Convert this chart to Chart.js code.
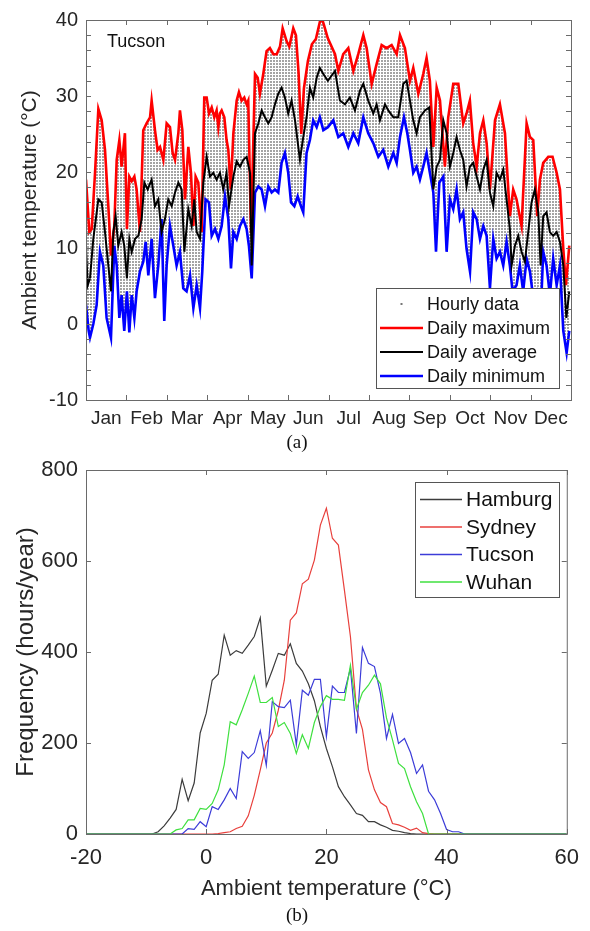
<!DOCTYPE html>
<html>
<head>
<meta charset="utf-8">
<script src="https://cdn.jsdelivr.net/npm/chart.js"></script>
<style>
  body { margin: 0; background: #fff; }
  #wrap { position: relative; width: 590px; height: 931px; }
  canvas { position: absolute; left: 0; }
  .cap { position: absolute; left: 0; width: 594px; text-align: center; font: 19px "Liberation Serif", "Times New Roman", serif; color: #111; }
</style>
</head>
<body>
<div id="wrap">
  <canvas id="tempChart" width="590" height="440" style="top:0"></canvas>
  <div class="cap" style="top:431px">(a)</div>
  <canvas id="freqChart" width="590" height="491" style="top:440px"></canvas>
  <div class="cap" style="top:904px">(b)</div>
</div>
<script>
// ---- panel (a): Tucson daily temperatures (day of year, degC) ----
const months = ['Jan', 'Feb', 'Mar', 'Apr', 'May', 'Jun', 'Jul', 'Aug', 'Sep', 'Oct', 'Nov', 'Dec'];

const maxDay = [0, 2.5, 4.3, 6.8, 9.3, 11.8, 14.3, 16.8, 18.8, 21.3, 23.1, 25.1, 26.8, 29.3, 30.8, 32.6, 34.4, 36.4, 38.1, 40.6,
  43.1, 45.6, 48.2, 49.4, 51.9, 53.9, 55.7, 58.2, 60.7, 63.2, 65.2, 67, 69.5, 70.7, 72.5, 74.5, 77, 79, 80.8, 82.5,
  84.5, 87, 89, 90.8, 92.6, 94.6, 96.6, 98.3, 99.6, 100.8, 102.1, 104.1, 105.8, 107.1, 108.9, 110.9, 113.4, 115.1, 117.1, 119.1,
  120.9, 122.1, 124.2, 127.2, 129.2, 130.9, 133.4, 135.9, 138.4, 141, 143.5, 146, 148, 151, 153, 156, 158, 160, 162, 164,
  167, 170, 173, 177, 179, 182, 187.4, 189.9, 193.6, 197.4, 201.2, 204.9, 208.7, 211.2, 215, 218.7, 222.5, 226.2, 230, 233.8,
  236.3, 240, 243.8, 246.3, 250.1, 253.8, 256.3, 258.8, 261.4, 263.9, 266.4, 270.1, 272.6, 276.4, 280.2, 283.9, 286.4, 288.9, 291.4, 294,
  296.5, 299, 301.5, 304, 307.8, 311.5, 315.3, 319, 321.5, 324, 327.8, 331.6, 334.1, 336.6, 339.6, 341.6, 344.1, 347.9, 351.1, 354.2,
  356.7, 359.2, 361.2, 363.7];
const maxTemp = [19.0, 12.1, 12.5, 19.9, 28.3, 26.8, 22.9, 15.5, 9.0, 12.9, 21.6, 24.2, 20.7, 25.1, 12.5, 19.4, 18.8, 19.4, 17.7, 12.1,
  25.5, 26.4, 27.2, 29.4, 25.5, 22.9, 23.3, 21.6, 26.4, 25.9, 22.5, 21.6, 25.1, 28.1, 25.5, 16.4, 23.3, 19.9, 12.9, 19.4,
  18.6, 12.1, 29.8, 29.8, 27.7, 28.5, 27.2, 28.1, 25.9, 27.7, 28.1, 27.2, 24.2, 22.9, 17.7, 25.1, 29.4, 30.5, 29.4, 29.8,
  28.9, 29.4, 12.0, 32.9, 32.4, 30.3, 32.9, 35.9, 36.3, 35.5, 35.5, 36.5, 38.9, 37.2, 36.5, 38.9, 38.0, 33.0, 25.0, 31.0,
  34.6, 36.8, 37.5, 40.5, 39.4, 37.6, 35.5, 33.3, 35.5, 36.3, 33.3, 35.5, 38.0, 36.3, 31.6, 34.2, 36.7, 36.3, 36.7, 35.5,
  38.0, 36.3, 32.0, 33.7, 30.3, 32.9, 35.0, 32.0, 23.3, 31.1, 29.4, 20.7, 27.2, 31.6, 31.6, 26.4, 27.7, 29.4, 23.8, 20.7,
  25.1, 26.8, 23.8, 17.7, 26.8, 28.9, 25.1, 14.2, 17.7, 16.4, 12.9, 26.4, 24.6, 24.2, 14.2, 19.0, 21.2, 22.0, 22.0, 19.9,
  17.7, 9.9, 5.1, 10.3];

const avgDay = [0, 1.3, 3, 5.5, 9.3, 11.8, 14.3, 16.8, 18.8, 20.6, 22.3, 24.3, 26.8, 28.8, 30.8, 32.6, 34.4, 36.9, 39.4, 41.9,
  43.9, 46.4, 49.4, 51.9, 54.4, 56.9, 59.4, 61.9, 64.5, 67, 69.5, 72, 74, 77, 79.5, 81.5, 83.3, 85.8, 88.3, 90.8,
  93.3, 95.8, 98.3, 100.8, 103.3, 105.8, 107.6, 110.9, 113.4, 115.9, 118.4, 120.9, 123.4, 124.7, 127.2, 129.7, 132.2, 134.7, 137.2, 139.7,
  142.2, 144.7, 147.2, 149.7, 152.2, 154.7, 157.3, 161, 163.5, 166, 168.5, 171, 173.6, 176, 178.6, 182, 187.4, 191.1, 194.9, 198.6,
  202.4, 206.2, 208.7, 212.4, 216.2, 218.7, 221.2, 225, 227.5, 231.3, 235, 238.8, 241.3, 243.8, 246.3, 248.8, 251.3, 255.1, 258.3, 261.4,
  263.9, 266.4, 268.9, 271.4, 273.9, 276.4, 278.9, 281.4, 283.9, 286.4, 288.9, 291.4, 294, 296.5, 299, 301.5, 304, 306.5, 309, 311.5,
  314, 316.5, 319, 320.3, 322.8, 325.3, 327.8, 330.3, 332.8, 335.3, 337.8, 340.4, 342.1, 344.1, 346.6, 349.1, 351.6, 354.2, 356.7, 359.2,
  361.5, 363.7];
const avgTemp = [9.9, 5.1, 6.0, 11.2, 16.4, 16.0, 12.1, 7.7, 4.3, 12.1, 14.2, 10.3, 12.1, 10.3, 6.0, 11.2, 9.5, 11.2, 11.6, 13.8,
  18.6, 17.7, 19.0, 15.5, 16.4, 12.1, 13.8, 16.4, 15.5, 17.3, 18.6, 17.7, 9.5, 15.1, 12.9, 16.4, 12.1, 11.2, 18.6, 22.0,
  19.4, 19.9, 19.0, 19.9, 17.7, 19.9, 15.5, 19.4, 21.4, 20.7, 21.6, 22.0, 19.9, 7.7, 25.1, 26.4, 28.1, 27.2, 26.4, 27.2,
  28.9, 30.3, 31.1, 29.8, 27.7, 29.4, 26.8, 21.6, 24.6, 27.2, 31.1, 29.8, 32.4, 33.7, 32.9, 32.0, 33.3, 29.4, 28.9, 29.8,
  28.1, 30.7, 31.6, 29.4, 27.7, 28.9, 26.8, 28.9, 28.1, 27.2, 27.2, 31.6, 32.0, 29.4, 26.8, 25.1, 27.2, 28.1, 28.5, 17.7,
  20.7, 21.6, 26.8, 25.1, 20.7, 22.5, 24.6, 22.9, 21.6, 18.1, 20.7, 21.2, 19.4, 17.7, 20.3, 21.6, 17.3, 15.5, 19.9, 19.0,
  20.3, 16.4, 12.5, 7.7, 10.3, 11.6, 9.5, 8.2, 12.1, 16.0, 17.7, 14.7, 7.7, 14.2, 14.7, 12.1, 11.6, 12.1, 10.8, 7.7,
  0.8, 4.3];

const minDay = [0, 2, 3, 5.5, 8, 10.5, 13, 15.5, 18.8, 21.3, 23.1, 25.1, 26.8, 28.8, 30.8, 32.6, 34.4, 36.4, 38.1, 40.6,
  43.1, 44.9, 46.9, 49.4, 51.9, 54.4, 56.9, 58.9, 60.7, 63.2, 65.7, 68.2, 70.7, 73.2, 75.7, 78.3, 80.8, 83.3, 85.8, 87.5,
  90, 92.5, 94.6, 97.1, 99.6, 102.1, 104.6, 107.1, 109.1, 110.9, 113.4, 115.9, 118.4, 120.9, 122.6, 124.7, 127.2, 129.7, 132.2, 134.7,
  137.2, 139.7, 142.2, 144.7, 147.2, 149.7, 152.2, 154.3, 156.8, 159.3, 161.8, 163.5, 166, 168.5, 171, 173.6, 176, 178.6, 182, 186.1,
  189.9, 193.6, 197.4, 201.2, 204.9, 208.7, 212.4, 216.2, 220, 223.7, 227.5, 231.3, 233.8, 236.3, 239.3, 241.8, 243.8, 246.3, 248.8, 251.3,
  253.8, 256.3, 258.8, 261.4, 263.4, 265.9, 268.9, 271.4, 273.9, 276.4, 278.9, 281.4, 283.9, 286.4, 289, 291.4, 294, 296.5, 299, 301.5,
  304, 306.5, 309, 311.5, 314, 316.5, 319, 321, 324, 326.5, 329, 331.6, 334.1, 336.6, 339.1, 342.1, 344.1, 346.6, 349.1, 351.6,
  354.2, 356.7, 359.2, 361.7, 363.7];
const minTemp = [2.5, -0.9, -1.8, 0.0, 2.5, 9.5, 7.7, 0.8, -1.8, 10.3, 7.7, 0.8, 3.8, -0.9, 4.3, -1.1, 3.8, 0.8, 4.3, 6.9,
  8.2, 10.8, 6.4, 11.2, 3.4, 7.7, 13.8, 0.4, 7.7, 12.9, 10.3, 7.7, 9.5, 4.7, 4.3, 6.4, 2.1, 5.1, 2.1, 6.9,
  16.4, 16.0, 11.6, 12.5, 11.2, 12.9, 16.8, 13.8, 7.3, 12.1, 11.2, 12.9, 13.8, 12.5, 10.3, 6.0, 17.3, 18.1, 17.7, 15.5,
  18.1, 17.3, 17.7, 17.3, 21.2, 22.5, 19.9, 16.0, 15.5, 16.8, 15.5, 14.7, 22.5, 24.2, 26.8, 25.9, 27.2, 25.5, 25.9, 26.8,
  24.6, 25.1, 23.3, 25.1, 23.8, 27.2, 25.1, 23.8, 22.0, 22.9, 20.7, 22.5, 21.2, 24.6, 27.2, 25.1, 22.9, 19.9, 20.7, 19.0,
  20.7, 22.5, 19.9, 17.3, 9.5, 18.6, 19.4, 9.5, 16.4, 15.1, 17.7, 13.8, 14.7, 9.9, 6.9, 14.7, 13.8, 11.2, 12.9, 11.6,
  4.7, 11.2, 8.6, 9.5, 7.7, 10.8, 7.7, 4.3, 5.1, 7.7, 4.3, 8.6, 6.9, 3.4, 4.3, 0.8, 9.5, 7.7, 3.8, 8.6,
  5.1, 7.7, -0.9, -3.8, -0.9];

// ---- panel (b): hours per year in each 1 degC bin, -20 .. 60 degC ----
const tempBins = Array.from({ length: 81 }, (_, i) => i - 20);
const hamburg = [0, 0, 0, 0, 0, 0, 0, 0, 0, 0, 0, 0, 5, 18, 35, 54, 120, 73, 112, 222,
  265, 338, 351, 437, 393, 403, 397, 415, 434, 475, 325, 360, 397, 393, 418, 375, 358, 330, 293, 236,
  188, 148, 104, 82, 64, 45, 41, 27, 27, 20, 15, 8, 6, 3, 1, 0, 0, 0, 0, 0,
  0, 0, 0, 0, 0, 0, 0, 0, 0, 0, 0, 0, 0, 0, 0, 0, 0, 0, 0, 0, 0];
const sydney = [0, 0, 0, 0, 0, 0, 0, 0, 0, 0, 0, 0, 0, 0, 0, 0, 0, 0, 0, 0,
  0, 0, 1, 3, 5, 12, 17, 40, 85, 141, 200, 222, 272, 338, 470, 486, 550, 560, 602, 679,
  716, 650, 635, 536, 434, 275, 230, 141, 97, 69, 60, 23, 20, 15, 8, 13, 3, 1, 0, 0,
  0, 0, 0, 0, 0, 0, 0, 0, 0, 0, 0, 0, 0, 0, 0, 0, 0, 0, 0, 0, 0];
const tucson = [0, 0, 0, 0, 0, 0, 0, 0, 0, 0, 0, 0, 0, 0, 0, 0, 0, 12, 10, 27,
  16, 60, 54, 75, 100, 78, 181, 166, 179, 227, 151, 291, 280, 278, 294, 196, 316, 305, 340, 340,
  214, 325, 311, 311, 364, 221, 410, 375, 368, 309, 210, 263, 199, 210, 179, 133, 152, 94, 75, 45,
  10, 5, 5, 0, 0, 0, 0, 0, 0, 0, 0, 0, 0, 0, 0, 0, 0, 0, 0, 0, 0];
const wuhan = [0, 0, 0, 0, 0, 0, 0, 0, 0, 0, 0, 0, 0, 0, 0, 9, 12, 31, 31, 56,
  54, 67, 97, 152, 247, 240, 273, 309, 347, 289, 289, 300, 236, 245, 221, 177, 218, 188, 245, 280,
  304, 296, 296, 294, 371, 274, 311, 327, 349, 330, 255, 207, 155, 144, 104, 71, 45, 0, 0, 0,
  0, 0, 0, 0, 0, 0, 0, 0, 0, 0, 0, 0, 0, 0, 0, 0, 0, 0, 0, 0, 0];

const FONT = 'Arial, "Liberation Sans", sans-serif';
const INK = '#262626';

function pts(xs, ys) {
  return xs.map((x, i) => ({ x: x, y: ys[i] }));
}

// box around the plot with short inward ticks on all four sides
const framePlugin = {
  id: 'frame',
  afterDraw(chart, args, o) {
    const { ctx, chartArea: a } = chart;
    const xs = chart.scales.x, ys = chart.scales.y;
    ctx.save();
    ctx.strokeStyle = '#6a6a6a';
    ctx.lineWidth = 1;
    ctx.strokeRect(a.left + 0.5, a.top + 0.5, a.right - a.left, a.bottom - a.top);
    ctx.beginPath();
    o.xTicks.forEach(v => {
      const p = Math.round(xs.getPixelForValue(v)) + 0.5;
      ctx.moveTo(p, a.bottom); ctx.lineTo(p, a.bottom - o.len);
      ctx.moveTo(p, a.top); ctx.lineTo(p, a.top + o.len);
    });
    o.yTicks.forEach(v => {
      const p = Math.round(ys.getPixelForValue(v)) + 0.5;
      ctx.moveTo(a.left, p); ctx.lineTo(a.left + o.len, p);
      ctx.moveTo(a.right, p); ctx.lineTo(a.right - o.len, p);
    });
    ctx.stroke();
    ctx.restore();
  }
};

// legend drawn inside the plot, MATLAB style
const boxLegend = {
  id: 'boxLegend',
  afterDraw(chart, args, o) {
    const ctx = chart.ctx;
    ctx.save();
    if (o.note) {
      ctx.font = o.noteFont;
      ctx.fillStyle = '#111';
      ctx.textBaseline = 'alphabetic';
      ctx.fillText(o.note, o.noteX, o.noteY);
    }
    ctx.fillStyle = '#fff';
    ctx.fillRect(o.x, o.y, o.w, o.h);
    ctx.strokeStyle = '#555';
    ctx.lineWidth = 1;
    ctx.strokeRect(o.x + 0.5, o.y + 0.5, o.w, o.h);
    ctx.font = o.font;
    ctx.textBaseline = 'middle';
    chart.data.datasets.forEach((ds, i) => {
      const cy = o.y + o.first + i * o.step;
      if (ds.legendDot) {
        ctx.fillStyle = '#777';
        ctx.fillRect((o.lineX0 + o.lineX1) / 2 - 1, cy - 1, 2, 2);
      } else {
        ctx.strokeStyle = ds.borderColor;
        ctx.lineWidth = ds.legendWidth || ds.borderWidth;
        ctx.beginPath();
        ctx.moveTo(o.lineX0, cy);
        ctx.lineTo(o.lineX1, cy);
        ctx.stroke();
      }
      ctx.fillStyle = '#111';
      ctx.fillText(ds.label, o.textX, cy + 1);
    });
    ctx.restore();
  }
};

// grey dotted texture standing in for the hourly points
const tempCanvas = document.getElementById('tempChart');
const tctx = tempCanvas.getContext('2d');
const tile = document.createElement('canvas');
tile.width = 3; tile.height = 3;
const tileCtx = tile.getContext('2d');
tileCtx.fillStyle = '#a4a4a4';
tileCtx.fillRect(0, 0, 2, 2);
const hourlyPattern = tctx.createPattern(tile, 'repeat');

const monthEdges = months.map((m, i) => i * 365 / 12).concat([365]);
const tempYTicks = [];
for (let v = -10; v <= 40; v += 2) tempYTicks.push(v);

new Chart(tempCanvas, {
  type: 'line',
  data: {
    datasets: [
      { label: 'Hourly data', data: pts(maxDay, maxTemp), xAxisID: 'x', yAxisID: 'y', borderWidth: 0,
        pointRadius: 0, fill: 3, backgroundColor: hourlyPattern, legendDot: true, order: 9 },
      { label: 'Daily maximum', data: pts(maxDay, maxTemp), xAxisID: 'x', yAxisID: 'y', borderColor: '#ff0000',
        borderWidth: 2.6, pointRadius: 0, fill: false, order: 2 },
      { label: 'Daily average', data: pts(avgDay, avgTemp), xAxisID: 'x', yAxisID: 'y', borderColor: '#000000',
        borderWidth: 2, pointRadius: 0, fill: false, order: 1 },
      { label: 'Daily minimum', data: pts(minDay, minTemp), xAxisID: 'x', yAxisID: 'y', borderColor: '#0000ff',
        borderWidth: 2.6, pointRadius: 0, fill: false, order: 3 }
    ]
  },
  options: {
    responsive: false,
    animation: false,
    layout: { padding: { top: 15, right: 19, left: 0, bottom: 0 } },
    plugins: {
      legend: { display: false },
      tooltip: { enabled: false },
      frame: { xTicks: monthEdges, yTicks: tempYTicks, len: 5 },
      boxLegend: {
        x: 376, y: 288, w: 183, h: 100, first: 16, step: 24,
        lineX0: 380, lineX1: 423, textX: 427, font: '18px ' + FONT,
        note: 'Tucson', noteX: 107, noteY: 46.5, noteFont: '18px ' + FONT
      }
    },
    scales: {
      x: { type: 'linear', min: 0, max: 365, display: false },
      xm: {
        type: 'category', labels: months, offset: true, position: 'bottom',
        grid: { display: false, drawTicks: false }, border: { display: false },
        ticks: { font: { family: FONT, size: 19 }, color: INK, padding: 7, maxRotation: 0, autoSkip: false },
        afterFit(s) { s.height = 40; }
      },
      y: {
        min: -10, max: 40,
        grid: { display: false, drawTicks: false }, border: { display: false },
        ticks: { stepSize: 10, font: { family: FONT, size: 20 }, color: INK, padding: 8 },
        title: { display: true, text: 'Ambient temperature (\u00B0C)', font: { family: FONT, size: 21 },
          color: INK, padding: { top: 18, bottom: 0 } },
        afterFit(s) { s.width = 86; }
      }
    }
  },
  plugins: [framePlugin, boxLegend]
});

// ---- panel (b) chart ----
const cities = [
  { label: 'Hamburg', values: hamburg, color: '#3c3c3c', order: 3 },
  { label: 'Sydney', values: sydney, color: '#e8403c', order: 2 },
  { label: 'Tucson', values: tucson, color: '#3c3cd8', order: 1 },
  { label: 'Wuhan', values: wuhan, color: '#3fe03f', order: 0 }
];

new Chart(document.getElementById('freqChart'), {
  type: 'line',
  data: {
    datasets: cities.map(c => ({
      label: c.label, data: pts(tempBins, c.values), borderColor: c.color, borderWidth: 1.2,
      legendWidth: 1.6, pointRadius: 0, fill: false, order: c.order
    }))
  },
  options: {
    responsive: false,
    animation: false,
    layout: { padding: { top: 30, right: 19, left: 0, bottom: 0 } },
    plugins: {
      legend: { display: false },
      tooltip: { enabled: false },
      frame: { xTicks: [-20, 0, 20, 40, 60], yTicks: [0, 200, 400, 600, 800], len: 5 },
      boxLegend: {
        x: 415, y: 42, w: 144, h: 115, first: 17.5, step: 27.5,
        lineX0: 420, lineX1: 462, textX: 466, font: '21px ' + FONT
      }
    },
    scales: {
      x: {
        type: 'linear', min: -20, max: 60,
        grid: { display: false, drawTicks: false }, border: { display: false },
        ticks: { stepSize: 20, font: { family: FONT, size: 22 }, color: INK, padding: 11, maxRotation: 0 },
        title: { display: true, text: 'Ambient temperature (\u00B0C)', font: { family: FONT, size: 22 },
          color: INK, padding: { top: 0, bottom: 29 } },
        afterFit(s) { s.height = 97; }
      },
      y: {
        min: 0, max: 800,
        grid: { display: false, drawTicks: false }, border: { display: false },
        ticks: { stepSize: 200, font: { family: FONT, size: 22 }, color: INK, padding: 8 },
        title: { display: true, text: 'Frequency (hours/year)', font: { family: FONT, size: 24 },
          color: INK, padding: { top: 12, bottom: 0 } },
        afterFit(s) { s.width = 86; }
      }
    }
  },
  plugins: [framePlugin, boxLegend]
});
</script>
</body>
</html>
